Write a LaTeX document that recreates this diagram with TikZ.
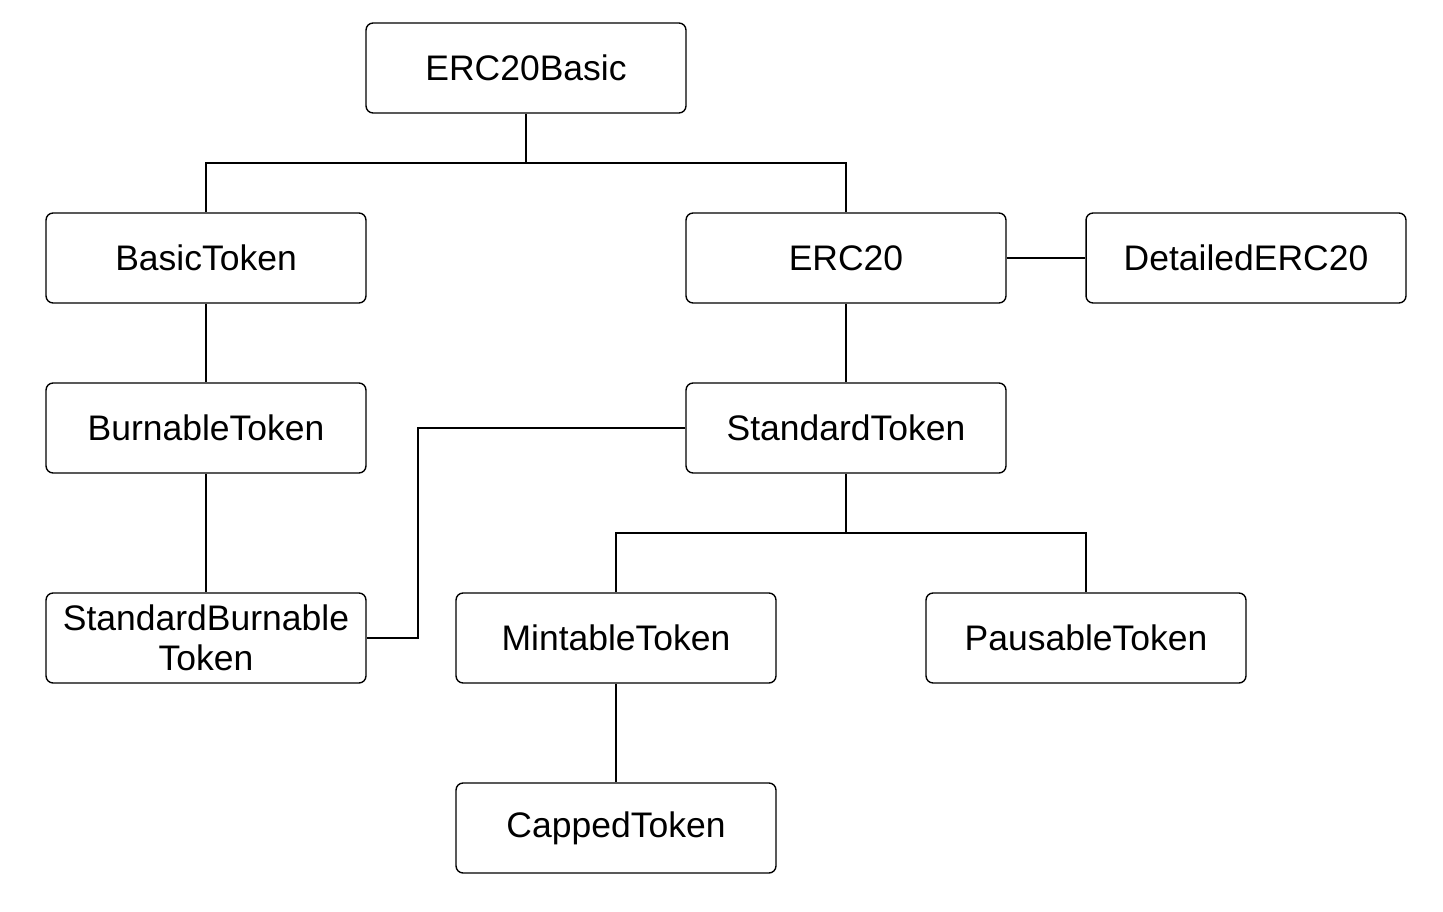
\documentclass[tikz,border=0pt]{standalone}
\usepackage{fontspec}
\setmainfont{Liberation Sans}
\tikzstyle{block}  = [draw,rectangle,rounded corners=4pt,minimum width=6.4cm,minimum height=1.8cm,align=center,font=\fontsize{20.2}{22.8}\selectfont,line width=0.8pt]
\tikzstyle{link}   = [draw,line width=0.8pt]
\begin{document}
\begin{tikzpicture}[x=0.02cm,y=-0.02cm]
			\useasboundingbox (0,0) rectangle (1443,912);
			\node [block] (erc20basic) at (526,68) {ERC20Basic};
			\node [block] (basic) at (206,258) {BasicToken};
			\node [block] (erc20) at (846,258) {ERC20};
			\node [block] (detailed) at (1246,258) {DetailedERC20};
			\node [block] (burnable) at (206,428) {BurnableToken};
			\node [block] (standard) at (846,428) {StandardToken};
			\node [block] (stdburn) at (206,638) {StandardBurnable\\Token};
			\node [block] (mintable) at (616,638) {MintableToken};
			\node [block] (pausable) at (1086,638) {PausableToken};
			\node [block] (capped) at (616,828) {CappedToken};

			\coordinate (split 1) at (526,163);
			\coordinate (split 2) at (846,533);
			\coordinate (bend 1) at (418,428);

			\draw [link] (erc20basic.south) -- (split 1) -| (basic.north);
			\draw [link] (split 1) -| (erc20.north);
			\draw [link] (erc20.east) -- (detailed.west);
			\draw [link] (basic.south) -- (burnable.north);
			\draw [link] (burnable.south) -- (stdburn.north);
			\draw [link] (erc20.south) -- (standard.north);
			\draw [link] (standard.west) -- (bend 1) |- (stdburn.east);
			\draw [link] (standard.south) -- (split 2) -| (mintable.north);
			\draw [link] (split 2) -| (pausable.north);
			\draw [link] (mintable.south) -- (capped.north);
\end{tikzpicture}
\end{document}
